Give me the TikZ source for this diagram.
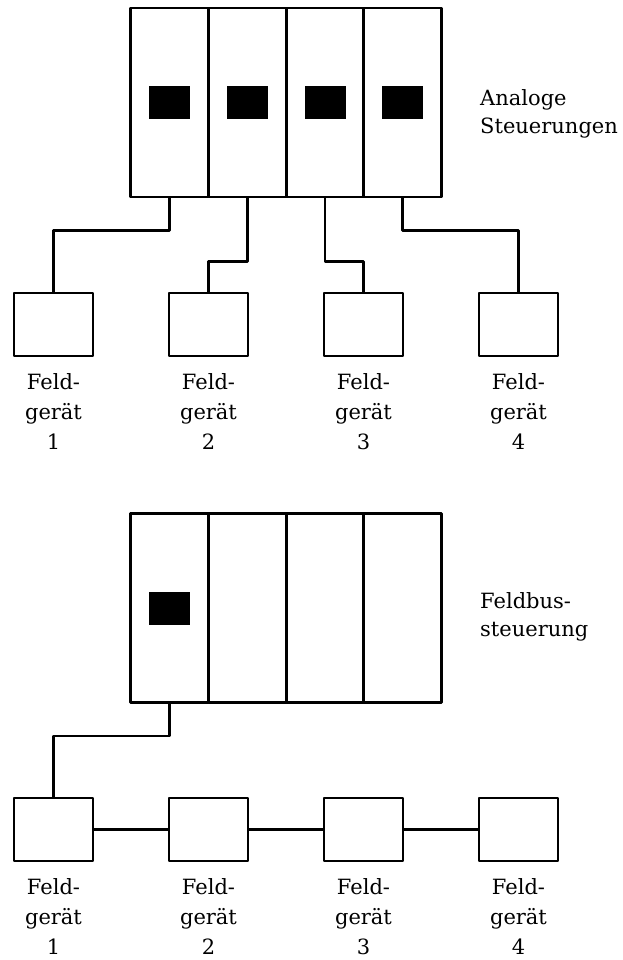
\documentclass[tikz,border=0pt]{standalone}
\usepackage{fontspec}
\setmainfont{DejaVu Serif}
\usetikzlibrary{positioning}

\tikzset{
  slot/.style={draw, line width=2.8pt, minimum width=77.75pt, minimum height=189pt, inner sep=0pt},
  led/.style={fill=black, minimum width=41pt, minimum height=33pt, inner sep=0pt},
  device/.style={draw, line width=2.8pt, minimum width=79pt, minimum height=63pt, inner sep=0pt},
  devlabel/.style={align=center, inner sep=0pt, font=\fontsize{21}{30}\selectfont},
  sidelabel/.style={align=left, inner sep=0pt, font=\fontsize{21}{28}\selectfont},
  wire/.style={line width=2.8pt}
}

\begin{document}
\begin{tikzpicture}[x=1pt, y=-1pt, line join=round]
\useasboundingbox (0,0) rectangle (622,960);

% analog wiring: every device has its own card
\begin{scope}
\foreach \i in {1,...,4} {
  \node[slot] (a\i) at (91.75+77.75*\i, 102.5) {};
  \node[led] (la\i) at (a\i) {};
  \node[device] (fa\i) at (-101.5+155*\i, 324.5) {};
  \node[devlabel, below=16pt of fa\i] (ta\i) {Feld-\\gerät\\\i};
}
\draw[wire] (a1.south) -- ++(0,32) -| (fa1.north);
\draw[wire] (a2.south) -- ++(0,63) -| (fa2.north);
\draw[wire] (a3.south) -- ++(0,63) -| (fa3.north);
\draw[wire] (a4.south) -- ++(0,32) -| (fa4.north);
\node[sidelabel, anchor=north west] (sa) at (480, 89) {Analoge\\Steuerungen};
\end{scope}

% fieldbus: one card, devices chained
\begin{scope}
\foreach \i in {1,...,4} {
  \node[slot] (b\i) at (91.75+77.75*\i, 608) {};
  \node[device] (fb\i) at (-101.5+155*\i, 829.5) {};
  \node[devlabel, below=16pt of fb\i] (tb\i) {Feld-\\gerät\\\i};
}
\node[led] (lb1) at (b1) {};
\draw[wire] (b1.south) -- ++(0,32) -| (fb1.north);
\draw[wire] (fb1.east) -- (fb2.west);
\draw[wire] (fb2.east) -- (fb3.west);
\draw[wire] (fb3.east) -- (fb4.west);
\node[sidelabel, anchor=north west] (sb) at (480, 592) {Feldbus-\\steuerung};
\end{scope}
\end{tikzpicture}
\end{document}
